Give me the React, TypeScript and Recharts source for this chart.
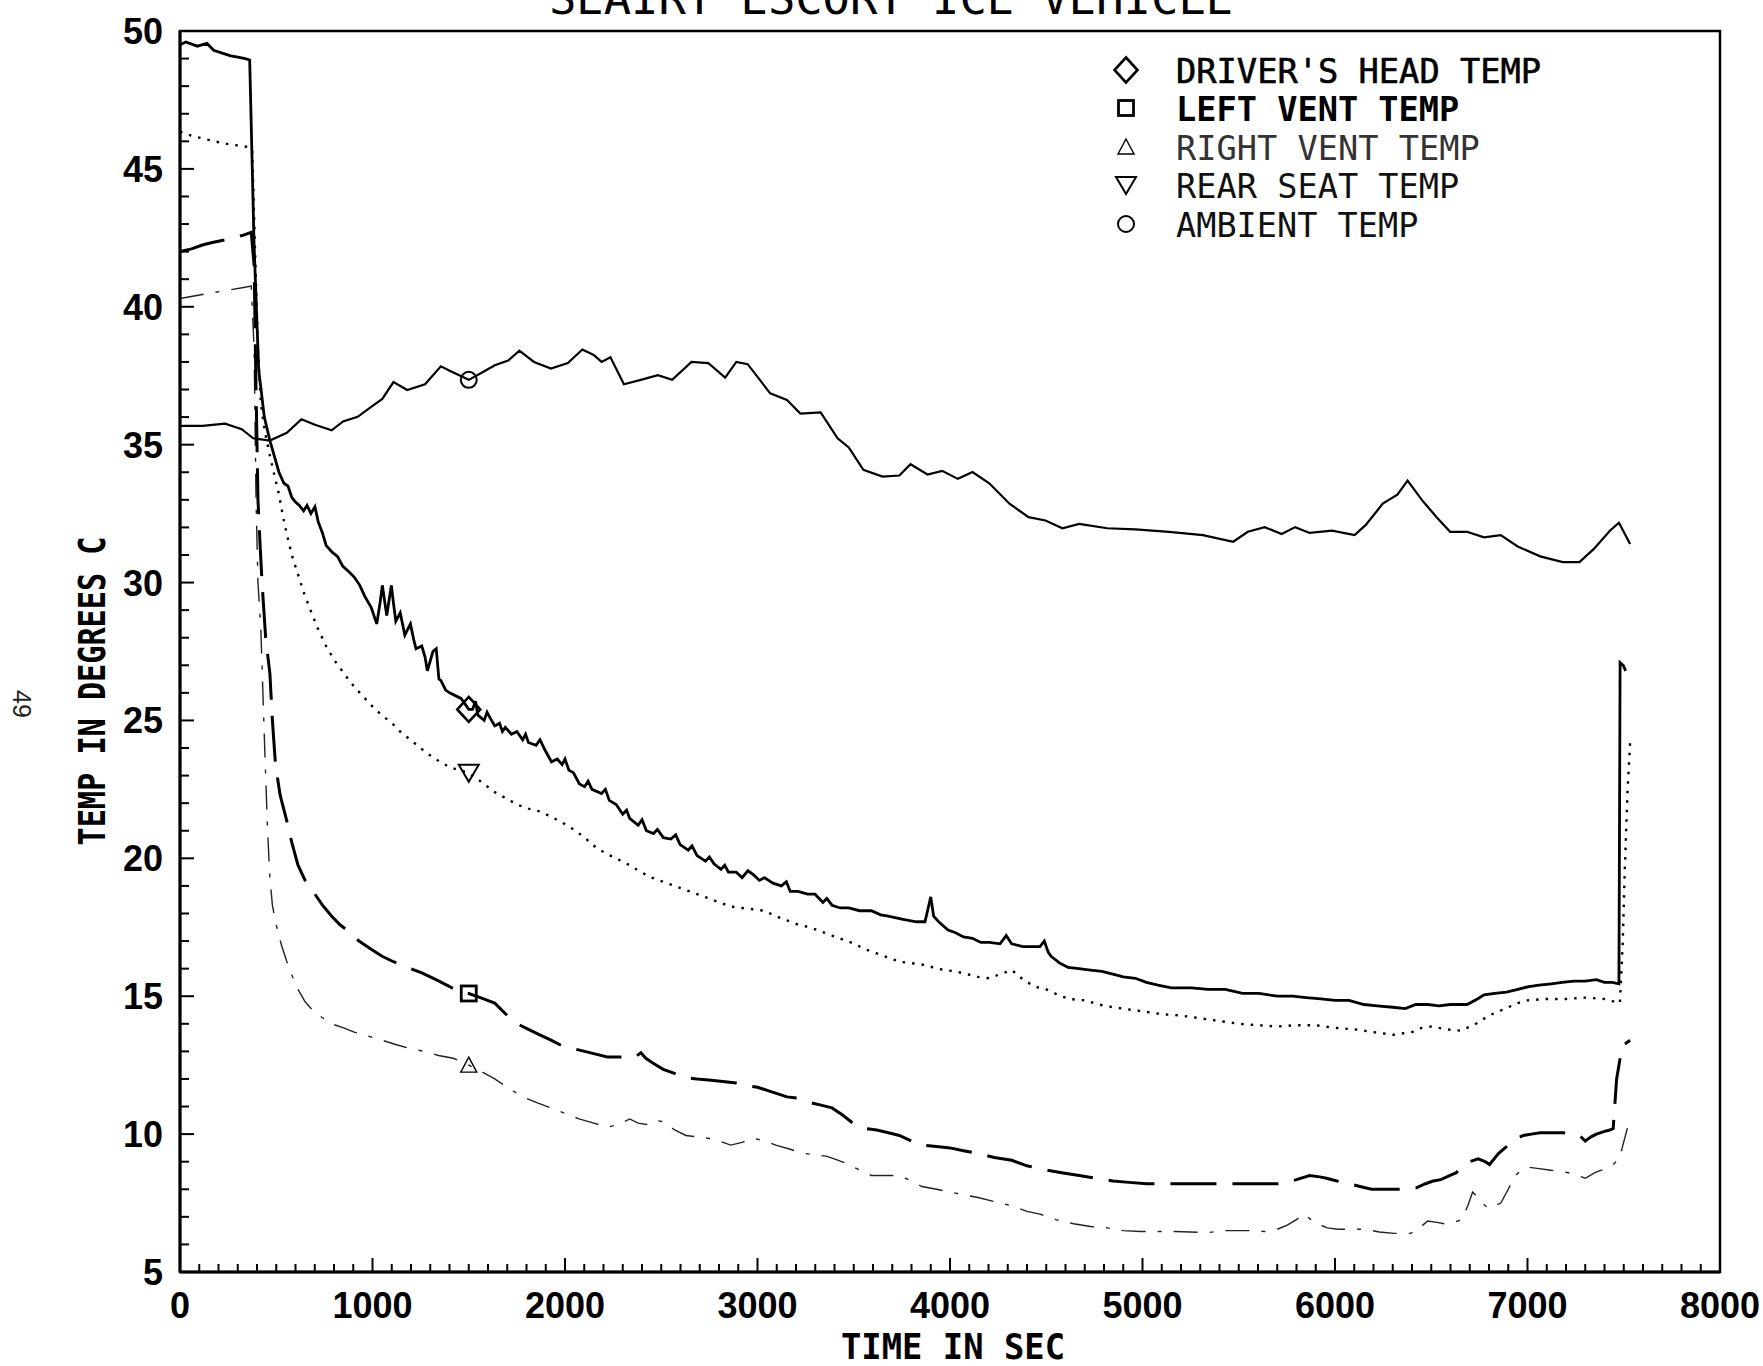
import React from 'react';
import {
  LineChart,
  Line,
  XAxis,
  YAxis,
  ReferenceArea,
  ReferenceDot,
  Customized,
} from 'recharts';

// ---- data: time in seconds, temperature in degrees C ----
const driversHead = [
  [0, 49.5], [30, 49.6], [90, 49.45], [140, 49.55], [175, 49.3], [263, 49.1], [300, 49.05], [339, 49.0],
  [362, 48.95], [385, 42.2], [409, 37.7], [438, 36.0], [467, 35.15], [514, 34.0], [540, 33.6], [561, 33.5],
  [580, 33.1], [596, 32.95], [620, 32.8], [642, 32.6], [660, 32.8], [680, 32.5], [701, 32.75], [718, 32.2],
  [740, 31.8], [759, 31.35], [790, 31.1], [818, 30.95], [845, 30.6], [876, 30.4], [905, 30.2], [934, 29.9],
  [960, 29.5], [993, 29.1], [1022, 28.5], [1040, 29.3], [1051, 29.9], [1074, 28.8], [1098, 29.9], [1110, 29.2],
  [1121, 28.6], [1144, 28.9], [1168, 28.1], [1197, 28.5], [1215, 27.9], [1226, 27.6], [1256, 27.7], [1273, 27.3],
  [1285, 26.8], [1314, 27.5], [1331, 27.6], [1345, 26.5], [1355, 26.45], [1380, 26.1], [1401, 26.0], [1430, 25.9],
  [1460, 25.8], [1500, 25.4], [1520, 25.4], [1535, 25.7], [1547, 25.2], [1580, 25.0], [1595, 25.3], [1610, 25.1],
  [1635, 24.8], [1660, 24.9], [1675, 24.6], [1690, 24.75], [1722, 24.5], [1750, 24.6], [1780, 24.3], [1795, 24.5],
  [1810, 24.2], [1850, 24.1], [1870, 24.3], [1898, 23.9], [1930, 23.5], [1960, 23.6], [1985, 23.4], [2000, 23.6],
  [2020, 23.2], [2044, 23.1], [2075, 22.7], [2102, 22.6], [2120, 22.8], [2140, 22.5], [2190, 22.35], [2210, 22.5],
  [2230, 22.1], [2266, 21.95], [2300, 21.6], [2320, 21.75], [2336, 21.45], [2380, 21.2], [2400, 21.4], [2423, 21.0],
  [2460, 20.9], [2480, 21.05], [2511, 20.75], [2550, 20.7], [2575, 20.85], [2598, 20.5], [2640, 20.3], [2660, 20.45],
  [2686, 20.1], [2730, 19.9], [2750, 20.05], [2774, 19.8], [2810, 19.6], [2830, 19.75], [2849, 19.5], [2890, 19.5],
  [2920, 19.3], [2950, 19.55], [2980, 19.4], [3010, 19.2], [3036, 19.3], [3080, 19.1], [3124, 19.0], [3150, 19.15],
  [3170, 18.8], [3211, 18.8], [3260, 18.7], [3299, 18.7], [3340, 18.4], [3360, 18.55], [3387, 18.3], [3430, 18.2],
  [3474, 18.2], [3530, 18.1], [3591, 18.1], [3640, 17.95], [3679, 17.9], [3750, 17.8], [3825, 17.7], [3870, 17.7],
  [3890, 18.3], [3900, 18.6], [3915, 17.9], [3941, 17.7], [3990, 17.4], [4029, 17.3], [4070, 17.15], [4117, 17.1],
  [4160, 16.95], [4204, 16.95], [4260, 16.9], [4292, 17.2], [4320, 16.9], [4379, 16.8], [4430, 16.8], [4467, 16.8],
  [4490, 17.0], [4510, 16.6], [4525, 16.45], [4570, 16.2], [4613, 16.05], [4670, 16.0], [4730, 15.95], [4790, 15.9],
  [4846, 15.8], [4900, 15.7], [4963, 15.65], [5020, 15.5], [5080, 15.4], [5150, 15.3], [5255, 15.3], [5340, 15.25],
  [5430, 15.25], [5520, 15.1], [5606, 15.1], [5700, 15.0], [5781, 15.0], [5850, 14.95], [5927, 14.9], [6000, 14.85],
  [6073, 14.85], [6150, 14.7], [6219, 14.65], [6300, 14.6], [6365, 14.55], [6420, 14.7], [6482, 14.7], [6540, 14.65],
  [6598, 14.7], [6686, 14.7], [6740, 14.9], [6774, 15.05], [6830, 15.1], [6891, 15.15], [6950, 15.25], [7007, 15.35],
  [7060, 15.4], [7124, 15.45], [7180, 15.5], [7241, 15.55], [7300, 15.55], [7358, 15.6], [7400, 15.5], [7440, 15.5],
  [7475, 15.45], [7481, 27.1], [7497, 27.0], [7510, 26.8],
];

const leftVent = [
  [0, 42.0], [60, 42.1], [120, 42.25], [180, 42.35], [250, 42.45], [330, 42.6], [370, 42.7], [385, 41.5],
  [395, 37.0], [405, 33.0], [415, 31.5], [427, 29.9], [445, 28.0], [467, 26.7], [480, 25.0], [496, 23.4],
  [520, 22.3], [555, 21.35], [580, 20.6], [613, 19.75], [650, 19.2], [701, 18.7], [740, 18.3], [788, 17.9],
  [830, 17.6], [876, 17.35], [930, 17.0], [993, 16.7], [1050, 16.45], [1109, 16.25], [1180, 16.05], [1256, 15.85],
  [1330, 15.6], [1401, 15.35], [1450, 15.15], [1500, 15.1], [1560, 14.95], [1635, 14.75], [1700, 14.3], [1752, 14.0],
  [1810, 13.8], [1869, 13.6], [1930, 13.4], [1985, 13.2], [2044, 13.1], [2102, 13.0], [2160, 12.9], [2219, 12.8],
  [2300, 12.8], [2365, 12.8], [2394, 12.95], [2420, 12.75], [2452, 12.6], [2510, 12.35], [2569, 12.2], [2630, 12.05],
  [2686, 12.0], [2760, 11.95], [2832, 11.9], [2890, 11.85], [2949, 11.75], [3000, 11.7], [3066, 11.55], [3110, 11.45],
  [3153, 11.35], [3210, 11.3], [3270, 11.15], [3330, 11.05], [3387, 10.95], [3440, 10.7], [3504, 10.35], [3560, 10.2],
  [3620, 10.15], [3680, 10.05], [3737, 9.95], [3800, 9.75], [3854, 9.6], [3930, 9.55], [4000, 9.5], [4070, 9.4],
  [4146, 9.3], [4230, 9.15], [4321, 9.05], [4400, 8.85], [4496, 8.7], [4580, 8.6], [4671, 8.5], [4760, 8.4],
  [4846, 8.3], [4930, 8.25], [5022, 8.2], [5110, 8.2], [5197, 8.2], [5290, 8.2], [5372, 8.2], [5460, 8.2],
  [5547, 8.2], [5640, 8.2], [5723, 8.2], [5800, 8.35], [5868, 8.5], [5920, 8.45], [5956, 8.4], [6010, 8.3],
  [6073, 8.2], [6130, 8.1], [6190, 8.0], [6250, 8.0], [6306, 8.0], [6370, 8.0], [6423, 8.05], [6470, 8.2],
  [6510, 8.3], [6550, 8.35], [6598, 8.5], [6630, 8.6], [6657, 8.8], [6700, 9.0], [6744, 9.1], [6780, 9.0],
  [6803, 8.9], [6850, 9.3], [6891, 9.55], [6930, 9.8], [6978, 9.95], [7020, 10.0], [7066, 10.05], [7120, 10.05],
  [7183, 10.05], [7230, 10.0], [7270, 9.95], [7300, 9.75], [7330, 9.9], [7358, 10.0], [7400, 10.1], [7428, 10.15],
  [7445, 10.2], [7463, 12.0], [7492, 13.2], [7533, 13.4],
];

const rightVent = [
  [0, 40.3], [80, 40.4], [160, 40.5], [250, 40.6], [330, 40.7], [370, 40.75], [385, 38.5], [395, 33.0],
  [405, 30.0], [420, 28.3], [440, 24.0], [455, 21.0], [467, 19.3], [480, 18.3], [496, 17.7], [525, 16.9],
  [555, 16.25], [585, 15.7], [613, 15.25], [650, 14.8], [701, 14.4], [745, 14.2], [788, 14.0], [850, 13.85],
  [905, 13.7], [980, 13.55], [1051, 13.4], [1120, 13.25], [1197, 13.1], [1270, 13.0], [1343, 12.85], [1420, 12.75],
  [1500, 12.5], [1570, 12.25], [1635, 12.0], [1710, 11.65], [1781, 11.35], [1850, 11.15], [1927, 10.95], [2000, 10.75],
  [2073, 10.55], [2150, 10.4], [2219, 10.25], [2280, 10.35], [2336, 10.55], [2380, 10.4], [2423, 10.35], [2470, 10.5],
  [2511, 10.45], [2570, 10.15], [2628, 9.95], [2690, 9.9], [2744, 9.85], [2800, 9.75], [2861, 9.6], [2920, 9.7],
  [2978, 9.85], [3040, 9.75], [3095, 9.6], [3170, 9.45], [3241, 9.3], [3300, 9.25], [3358, 9.2], [3420, 9.05],
  [3474, 8.9], [3530, 8.7], [3591, 8.5], [3660, 8.5], [3737, 8.5], [3800, 8.3], [3854, 8.1], [3930, 8.0],
  [4000, 7.9], [4070, 7.8], [4146, 7.7], [4230, 7.55], [4321, 7.4], [4400, 7.2], [4467, 7.1], [4550, 6.9],
  [4642, 6.75], [4730, 6.65], [4817, 6.6], [4900, 6.5], [4992, 6.47], [5080, 6.47], [5168, 6.47], [5250, 6.45],
  [5343, 6.43], [5420, 6.5], [5489, 6.5], [5560, 6.5], [5635, 6.47], [5700, 6.55], [5752, 6.7], [5800, 6.9],
  [5839, 7.1], [5875, 6.9], [5909, 6.75], [5960, 6.6], [6015, 6.55], [6090, 6.55], [6160, 6.55], [6230, 6.45],
  [6306, 6.4], [6394, 6.4], [6440, 6.6], [6481, 6.85], [6530, 6.8], [6569, 6.75], [6620, 6.8], [6657, 6.9],
  [6690, 7.4], [6715, 7.9], [6744, 7.7], [6780, 7.4], [6803, 7.3], [6830, 7.4], [6861, 7.5], [6900, 8.0],
  [6937, 8.5], [6970, 8.7], [7007, 8.8], [7060, 8.75], [7112, 8.7], [7160, 8.65], [7212, 8.6], [7260, 8.5],
  [7300, 8.4], [7350, 8.6], [7387, 8.7], [7420, 8.8], [7445, 8.9], [7475, 9.1], [7492, 9.5], [7533, 10.6],
];

const rearSeat = [
  [0, 46.35], [60, 46.2], [120, 46.1], [180, 46.0], [250, 45.9], [300, 45.85], [350, 45.8], [375, 45.7],
  [390, 42.0], [405, 38.5], [420, 36.5], [440, 35.5], [467, 34.6], [490, 33.9], [514, 33.2], [535, 32.4],
  [555, 31.75], [585, 30.9], [613, 30.3], [640, 29.7], [672, 29.1], [715, 28.35], [759, 27.7], [800, 27.2],
  [847, 26.75], [890, 26.35], [934, 26.0], [980, 25.65], [1022, 25.35], [1065, 25.1], [1109, 24.85], [1150, 24.55],
  [1197, 24.3], [1240, 24.05], [1285, 23.8], [1340, 23.55], [1401, 23.3], [1450, 23.2], [1500, 23.1], [1560, 22.8],
  [1635, 22.4], [1700, 22.15], [1752, 21.95], [1810, 21.8], [1869, 21.7], [1930, 21.5], [1985, 21.3], [2044, 21.05],
  [2102, 20.75], [2160, 20.4], [2219, 20.15], [2280, 19.95], [2336, 19.75], [2394, 19.5], [2452, 19.3], [2510, 19.15],
  [2569, 19.0], [2628, 18.85], [2686, 18.7], [2745, 18.55], [2803, 18.4], [2860, 18.25], [2920, 18.2], [2980, 18.15],
  [3036, 18.1], [3095, 17.9], [3153, 17.75], [3210, 17.6], [3270, 17.5], [3330, 17.35], [3387, 17.2], [3445, 17.05],
  [3504, 16.9], [3560, 16.7], [3620, 16.55], [3680, 16.4], [3737, 16.25], [3800, 16.2], [3854, 16.15], [3910, 16.05],
  [3971, 15.95], [4030, 15.9], [4088, 15.8], [4146, 15.7], [4204, 15.65], [4260, 15.8], [4321, 15.95], [4380, 15.6],
  [4440, 15.35], [4500, 15.25], [4560, 15.05], [4620, 14.9], [4700, 14.85], [4800, 14.65], [4900, 14.55], [5000, 14.45],
  [5100, 14.35], [5200, 14.3], [5300, 14.2], [5400, 14.1], [5500, 14.0], [5600, 13.95], [5700, 13.9], [5800, 13.95],
  [5900, 13.95], [6000, 13.85], [6100, 13.8], [6200, 13.7], [6300, 13.6], [6400, 13.7], [6450, 13.85], [6500, 13.9],
  [6580, 13.8], [6650, 13.75], [6720, 13.95], [6800, 14.3], [6850, 14.45], [6900, 14.6], [6950, 14.75], [7000, 14.85],
  [7100, 14.9], [7200, 14.9], [7300, 14.95], [7400, 14.9], [7480, 14.75], [7495, 17.0], [7505, 19.5], [7520, 22.5],
  [7533, 24.2],
];

const ambient = [
  [0, 35.68], [117, 35.68], [234, 35.76], [321, 35.56], [380, 35.23], [467, 35.15], [555, 35.43], [631, 35.92],
  [701, 35.72], [788, 35.52], [847, 35.84], [923, 36.01], [993, 36.37], [1051, 36.66], [1109, 37.27], [1180, 36.98],
  [1273, 37.19], [1355, 37.84], [1401, 37.68], [1500, 37.35], [1565, 37.6], [1635, 37.88], [1705, 38.05], [1763, 38.41],
  [1839, 38.0], [1927, 37.76], [2015, 37.96], [2090, 38.45], [2149, 38.25], [2190, 38.0], [2236, 38.17], [2306, 37.19],
  [2394, 37.35], [2482, 37.52], [2557, 37.35], [2657, 38.0], [2744, 37.96], [2832, 37.43], [2890, 38.0], [2949, 37.92],
  [3066, 36.86], [3153, 36.62], [3223, 36.13], [3328, 36.17], [3416, 35.23], [3474, 34.9], [3550, 34.09], [3649, 33.84],
  [3737, 33.88], [3795, 34.29], [3883, 33.92], [3959, 34.05], [4041, 33.76], [4117, 34.01], [4204, 33.6], [4309, 32.86],
  [4408, 32.37], [4496, 32.25], [4584, 31.97], [4671, 32.13], [4817, 31.97], [4963, 31.93], [5138, 31.84], [5314, 31.72],
  [5471, 31.48], [5547, 31.84], [5635, 32.01], [5723, 31.76], [5793, 32.01], [5868, 31.8], [5985, 31.88], [6102, 31.72],
  [6160, 32.09], [6248, 32.86], [6324, 33.19], [6377, 33.7], [6452, 32.99], [6528, 32.37], [6598, 31.84], [6686, 31.84],
  [6774, 31.64], [6861, 31.72], [6949, 31.31], [7066, 30.95], [7183, 30.74], [7270, 30.74], [7346, 31.23], [7428, 31.88],
  [7475, 32.17], [7533, 31.4],
];

// one symbol per series, placed on each curve at this time
const markerTime = 1500;
const markerValues = [25.4, 15.1, 12.5, 23.1, 37.35];

const seriesNames = [
  "DRIVER'S HEAD TEMP",
  'LEFT VENT TEMP',
  'RIGHT VENT TEMP',
  'REAR SEAT TEMP',
  'AMBIENT TEMP',
];

const xTicks = Array.from({ length: 81 }, (_, i) => i * 100);
const yTicks = Array.from({ length: 46 }, (_, i) => 5 + i);

const toPoints = (rows: number[][]) => rows.map(([t, v]) => ({ t, v }));

const MONO = '"DejaVu Sans Mono", "Liberation Mono", monospace';
const SANS = '"Liberation Sans", Arial, sans-serif';

type SymbolKind = 'diamond' | 'square' | 'triangle' | 'invTriangle' | 'circle';
const symbolKinds: SymbolKind[] = ['diamond', 'square', 'triangle', 'invTriangle', 'circle'];

function SeriesSymbol({ kind, cx, cy }: { kind: SymbolKind; cx: number; cy: number }) {
  const common = { fill: 'none', stroke: '#000' };
  switch (kind) {
    case 'diamond':
      return (
        <path
          d={`M${cx} ${cy - 12.5} L${cx + 11.5} ${cy} L${cx} ${cy + 12.5} L${cx - 11.5} ${cy} Z`}
          {...common}
          strokeWidth={2.6}
        />
      );
    case 'square':
      return <rect x={cx - 7.5} y={cy - 7.5} width={15} height={15} {...common} strokeWidth={2.8} />;
    case 'triangle':
      return (
        <path
          d={`M${cx} ${cy - 8} L${cx + 8} ${cy + 7} L${cx - 8} ${cy + 7} Z`}
          {...common}
          strokeWidth={1.4}
        />
      );
    case 'invTriangle':
      return (
        <path
          d={`M${cx - 10} ${cy - 8} L${cx + 10} ${cy - 8} L${cx} ${cy + 9} Z`}
          {...common}
          strokeWidth={2}
        />
      );
    default:
      return <circle cx={cx} cy={cy} r={8} {...common} strokeWidth={2} />;
  }
}

function XTick(props: any) {
  const { x, y, payload } = props;
  const v = payload.value as number;
  const major = v % 1000 === 0;
  return (
    <g>
      <line x1={x} x2={x} y1={y} y2={y - (major ? 14 : 8)} stroke="#000" strokeWidth={2} />
      {major && (
        <text x={x} y={y + 46} textAnchor="middle" fontFamily={SANS} fontWeight="bold" fontSize={36} fill="#000">
          {v}
        </text>
      )}
    </g>
  );
}

function YTick(props: any) {
  const { x, y, payload } = props;
  const v = payload.value as number;
  const major = v % 5 === 0;
  return (
    <g>
      <line x1={x} x2={x + (major ? 14 : 9)} y1={y} y2={y} stroke="#000" strokeWidth={2} />
      {major && (
        <text x={x - 17} y={y + 13} textAnchor="end" fontFamily={SANS} fontWeight="bold" fontSize={36} fill="#000">
          {v}
        </text>
      )}
    </g>
  );
}

const legendBaselines = [83, 121, 160, 198, 237];
const legendWeights = ['normal', 'bold', 'normal', 'normal', 'normal'];
const legendFills = ['#000', '#000', '#333', '#111', '#111'];

function Decorations() {
  return (
    <g>
      {/* heading, trimmed by the page edge */}
      <text x={549} y={14} fontFamily={MONO} fontSize={45} textLength={684} lengthAdjust="spacingAndGlyphs" fill="#000">
        SEAIRT ESCORT ICE VEHICLE
      </text>

      {/* key */}
      {seriesNames.map((name, i) => (
        <g key={name}>
          <SeriesSymbol kind={symbolKinds[i]} cx={1126} cy={legendBaselines[i] - 13} />
          <text
            x={1176}
            y={legendBaselines[i]}
            fontFamily={MONO}
            fontSize={34}
            fontWeight={legendWeights[i]}
            fill={legendFills[i]}
            stroke={i === 0 ? '#000' : 'none'}
            strokeWidth={i === 0 ? 0.6 : 0}
            textLength={name.length * 20.45 - 3}
            lengthAdjust="spacingAndGlyphs"
          >
            {name}
          </text>
        </g>
      ))}

      {/* axis titles */}
      <text x={841} y={1359} fontFamily={MONO} fontWeight="bold" fontSize={36} textLength={224} lengthAdjust="spacingAndGlyphs" fill="#000">
        TIME IN SEC
      </text>
      <g transform="translate(105, 691) rotate(-90)">
        <text x={0} y={0} textAnchor="middle" fontFamily={MONO} fontWeight="bold" fontSize={37} textLength={309} lengthAdjust="spacingAndGlyphs" fill="#000">
          TEMP IN DEGREES C
        </text>
      </g>

      {/* page number */}
      <g transform="translate(13, 704) rotate(90)">
        <text x={0} y={0} textAnchor="middle" fontFamily={SANS} fontSize={25} fill="#222">
          49
        </text>
      </g>
    </g>
  );
}

const seriesData = [driversHead, leftVent, rightVent, rearSeat, ambient].map(toPoints);

export default function App() {
  return (
    <div style={{ position: 'absolute', left: 0, top: 0, width: 1763, height: 1366, background: '#fff', overflow: 'hidden' }}>
      <LineChart width={1763} height={1366} margin={{ top: 31, right: 43, bottom: 0, left: 0 }}>
        <XAxis
          type="number"
          dataKey="t"
          domain={[0, 8000]}
          ticks={xTicks}
          interval={0}
          allowDataOverflow
          height={94}
          tickSize={0}
          tickMargin={0}
          tickLine={false}
          axisLine={{ stroke: '#000', strokeWidth: 3 }}
          tick={<XTick />}
        />
        <YAxis
          type="number"
          dataKey="v"
          domain={[5, 50]}
          ticks={yTicks}
          interval={0}
          allowDataOverflow
          width={180}
          tickSize={0}
          tickMargin={0}
          tickLine={false}
          axisLine={{ stroke: '#000', strokeWidth: 3 }}
          tick={<YTick />}
        />
        <ReferenceArea x1={0} x2={8000} y1={5} y2={50} fill="none" fillOpacity={0} stroke="#000" strokeWidth={2.5} />

        <Line
          data={seriesData[4]}
          dataKey="v"
          name={seriesNames[4]}
          type="linear"
          stroke="#000"
          strokeWidth={2.2}
          dot={false}
          isAnimationActive={false}
        />
        <Line
          data={seriesData[3]}
          dataKey="v"
          name={seriesNames[3]}
          type="linear"
          stroke="#000"
          strokeWidth={2.4}
          strokeDasharray="2.5 7"
          dot={false}
          isAnimationActive={false}
        />
        <Line
          data={seriesData[2]}
          dataKey="v"
          name={seriesNames[2]}
          type="linear"
          stroke="#222"
          strokeWidth={1.4}
          strokeDasharray="24 12 4 12"
          dot={false}
          isAnimationActive={false}
        />
        <Line
          data={seriesData[1]}
          dataKey="v"
          name={seriesNames[1]}
          type="linear"
          stroke="#000"
          strokeWidth={3}
          strokeDasharray="46 16"
          dot={false}
          isAnimationActive={false}
        />
        <Line
          data={seriesData[0]}
          dataKey="v"
          name={seriesNames[0]}
          type="linear"
          stroke="#000"
          strokeWidth={2.8}
          dot={false}
          isAnimationActive={false}
        />

        {markerValues.map((v, i) => (
          <ReferenceDot
            key={seriesNames[i]}
            x={markerTime}
            y={v}
            r={8}
            shape={(p: any) => <SeriesSymbol kind={symbolKinds[i]} cx={p.cx} cy={p.cy} />}
          />
        ))}

        <Customized component={<Decorations />} />
      </LineChart>
    </div>
  );
}
